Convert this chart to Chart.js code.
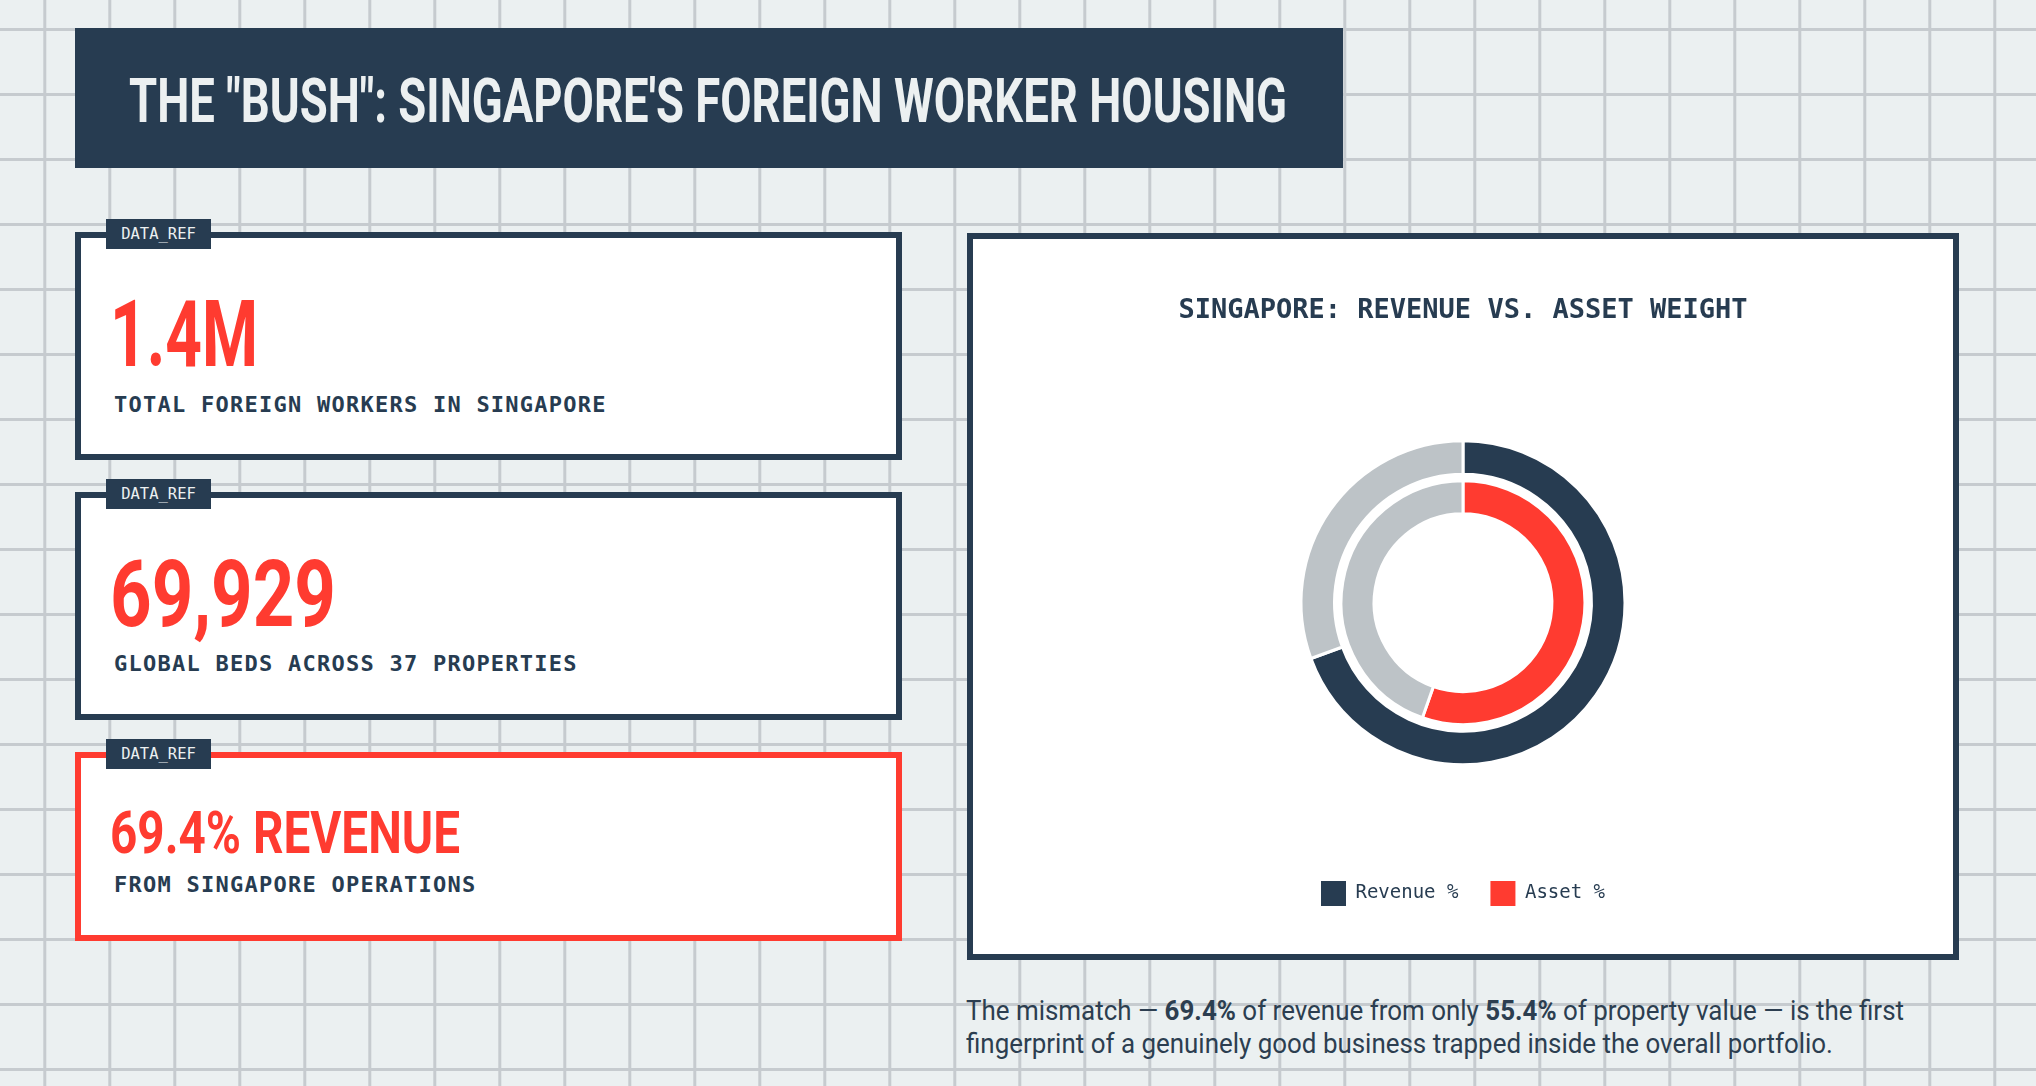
<!DOCTYPE html>
<html lang="en">
<head>
  <meta charset="UTF-8">
  <title>The "Bush": Singapore's Foreign Worker Housing</title>
  <script src="https://cdn.jsdelivr.net/npm/chart.js"></script>
  <style>
    html, body { margin: 0; padding: 0; }
    body {
      width: 2036px; height: 1086px; overflow: hidden; position: relative;
      background-color: #ebf0f1;
      background-image:
        linear-gradient(to right, #c6cbcf 2.6px, transparent 2.6px),
        linear-gradient(to bottom, #c6cbcf 2.6px, transparent 2.6px);
      background-size: 65px 65px;
      background-position: 43.3px 28px;
      color: #273c51;
    }
    .abs { position: absolute; }
    .fit { display: inline-block; white-space: nowrap; transform-origin: left top; }
    .titlebox { left: 75px; top: 28px; width: 1268px; height: 139.5px; background: #273c51; }
    .title { left: 129px; top: 71px; font: 700 61px/1 Roboto, sans-serif; color: #ecf0f1; }
    .card { left: 75px; width: 827px; box-sizing: border-box; border: 6.5px solid #273c51; background: #fff; }
    .card.hot { border-color: #ff3b30; }
    .tag { left: 106px; width: 105px; height: 30px; background: #273c51; color: #ecf0f1;
           font: 15.5px/30px "DejaVu Sans Mono", monospace; text-align: center; }
    .num { left: 110px; font: 700 93px/1 Roboto, sans-serif; color: #ff3b30; }
    .num.small { font-size: 60px; }
    .sub { left: 114px; font: 700 22px/1 "DejaVu Sans Mono", monospace; letter-spacing: 1.25px; color: #273c51; }
    .panel { left: 967px; top: 233px; width: 992px; height: 727px; box-sizing: border-box;
             border: 6.5px solid #273c51; background: #fff; }
    .chartwrap { position: absolute; left: 0; top: 0; right: 0; bottom: 0; }
    .note { left: 966px; top: 994px; font: 400 28px/33px Roboto, sans-serif; color: #2c3e50; }
    .note b { font-weight: 700; }
  </style>
</head>
<body>

  <div class="abs titlebox"></div>
  <div class="abs fit title" data-w="1158">THE "BUSH": SINGAPORE'S FOREIGN WORKER HOUSING</div>

  <div class="abs card" style="top:232px;height:228px"></div>
  <div class="abs tag" style="top:219px">DATA_REF</div>
  <div class="abs fit num" style="top:287.5px" data-w="148">1.4M</div>
  <div class="abs sub" style="top:394.4px">TOTAL FOREIGN WORKERS IN SINGAPORE</div>

  <div class="abs card" style="top:492px;height:228px"></div>
  <div class="abs tag" style="top:479px">DATA_REF</div>
  <div class="abs fit num" style="top:547.5px" data-w="226">69,929</div>
  <div class="abs sub" style="top:653.4px">GLOBAL BEDS ACROSS 37 PROPERTIES</div>

  <div class="abs card hot" style="top:752px;height:189px"></div>
  <div class="abs tag" style="top:739px">DATA_REF</div>
  <div class="abs fit num small" style="top:802.7px" data-w="350">69.4% REVENUE</div>
  <div class="abs sub" style="top:874.4px">FROM SINGAPORE OPERATIONS</div>

  <div class="abs panel">
    <div class="chartwrap"><canvas id="chart"></canvas></div>
  </div>

  <div class="abs fit note" data-w="938">
    The mismatch — <b>69.4%</b> of revenue from only <b>55.4%</b> of property value — is the first<br>
    fingerprint of a genuinely good business trapped inside the overall portfolio.
  </div>

  <script>
    // ring data: Singapore share vs the rest of the portfolio
    const ringLabels = ['Singapore', 'Rest of portfolio'];
    const revenueShare = [69.4, 30.6];
    const assetShare = [55.4, 44.6];
    const seriesNames = ['Revenue %', 'Asset %'];

    const navy = '#273c51';
    const red = '#ff3b30';
    const grey = '#bdc3c7';
    const seriesColors = [navy, red];

    // squeeze the condensed headings to the widths of the original layout
    document.querySelectorAll('.fit').forEach(el => {
      el.style.transform = 'none';
      const w = el.getBoundingClientRect().width;
      el.style.transform = `scaleX(${el.dataset.w / w})`;
    });

    Chart.defaults.font.family = '"DejaVu Sans Mono", monospace';
    Chart.defaults.color = navy;

    const ctx = document.getElementById('chart').getContext('2d');
    new Chart(ctx, {
      type: 'doughnut',
      data: {
        labels: ringLabels,
        datasets: [
          {
            label: seriesNames[0],
            data: revenueShare,
            backgroundColor: [navy, grey],
            borderColor: '#fff',
            borderWidth: 3,
            weight: 33.5
          },
          {
            // blank ring that keeps the two rings apart
            label: 'gap',
            data: [1],
            backgroundColor: 'rgba(0,0,0,0)',
            borderWidth: 0,
            weight: 6.5
          },
          {
            label: seriesNames[1],
            data: assetShare,
            backgroundColor: [red, grey],
            borderColor: '#fff',
            borderWidth: 3,
            weight: 33
          }
        ]
      },
      options: {
        responsive: true,
        maintainAspectRatio: false,
        animation: false,
        radius: 162,
        cutout: '54.9%',
        layout: { padding: { bottom: 38 } },
        plugins: {
          title: {
            display: true,
            text: 'SINGAPORE: REVENUE VS. ASSET WEIGHT',
            color: navy,
            font: { size: 27, weight: 'bold' },
            padding: { top: 56, bottom: 29 }
          },
          legend: {
            position: 'bottom',
            labels: {
              boxWidth: 25,
              boxHeight: 25,
              padding: 32,
              color: navy,
              font: { size: 19 },
              generateLabels: () => seriesNames.map((name, i) => ({
                text: name,
                fillStyle: seriesColors[i],
                strokeStyle: seriesColors[i],
                lineWidth: 0,
                fontColor: navy,
                hidden: false,
                datasetIndex: i * 2
              }))
            },
            onClick: () => {}
          },
          tooltip: { enabled: false }
        }
      }
    });
  </script>

</body>
</html>
